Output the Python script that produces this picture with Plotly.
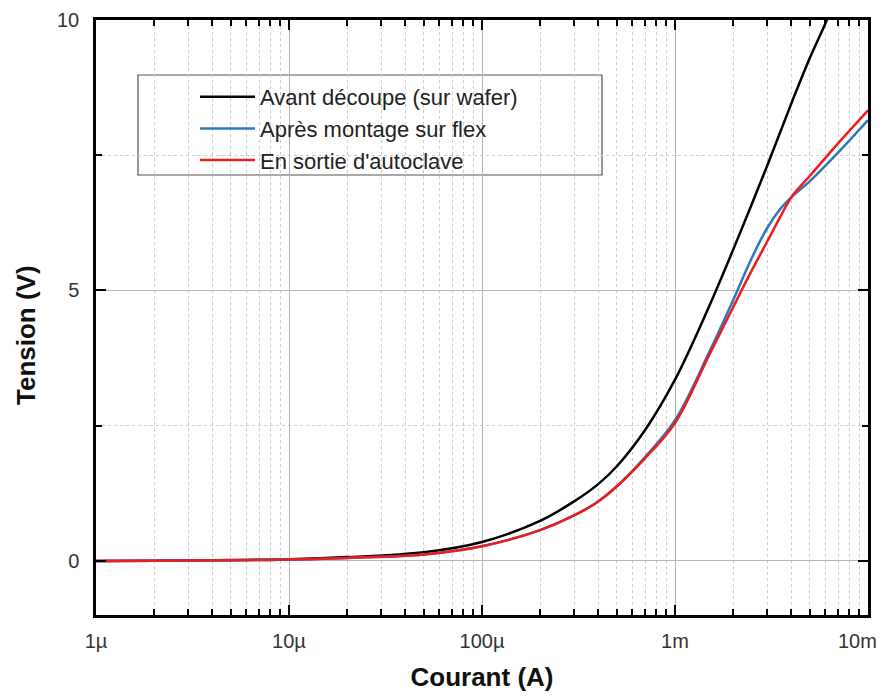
import plotly.graph_objects as go

# current (A) sample points
current = [1e-6, 2e-6, 5e-6, 1e-5, 2e-5, 5e-5, 1e-4, 2e-4, 3e-4, 4e-4, 5e-4, 7e-4,
           1e-3, 1.5e-3, 2e-3, 2.5e-3, 3e-3, 3.5e-3, 4e-3, 5e-3, 7e-3, 1e-2]

# Avant découpe (sur wafer) - goes off the top at ~6.2 mA
current_wafer = [1e-6, 2e-6, 5e-6, 1e-5, 2e-5, 5e-5, 1e-4, 2e-4, 3e-4, 4e-4, 5e-4, 7e-4,
                 1e-3, 1.5e-3, 2e-3, 3e-3, 4e-3, 5e-3, 6.2e-3, 7e-3]
v_wafer = [0.0, 0.005, 0.015, 0.03, 0.07, 0.16, 0.35, 0.74, 1.1, 1.42, 1.75, 2.42,
           3.35, 4.7, 5.75, 7.3, 8.45, 9.3, 10.05, 10.6]

# Après montage sur flex
v_flex = [0.0, 0.005, 0.012, 0.025, 0.055, 0.12, 0.27, 0.57, 0.84, 1.1, 1.38, 1.92,
          2.6, 3.85, 4.82, 5.6, 6.15, 6.5, 6.72, 7.02, 7.55, 8.15]

# En sortie d'autoclave
v_autoclave = [0.0, 0.005, 0.012, 0.025, 0.055, 0.12, 0.27, 0.57, 0.84, 1.1, 1.38, 1.9,
               2.55, 3.8, 4.69, 5.37, 5.9, 6.35, 6.72, 7.12, 7.72, 8.33]

x_tickvals = [1e-6, 1e-5, 1e-4, 1e-3, 1e-2]
# last label is drawn as an annotation so it is not clipped at the window edge
x_ticktext = ["1µ", "10µ", "100µ", "1m", ""]
x_last_label = "10m"
x_minor = [m * d for d in [1e-6, 1e-5, 1e-4, 1e-3] for m in range(2, 10)]

FONT = "Liberation Sans, Arial, sans-serif"

fig = go.Figure()

fig.add_trace(go.Scatter(x=current_wafer, y=v_wafer, mode="lines", line_shape="spline",
                         line=dict(color="#000000", width=2.5),
                         name="Avant découpe (sur wafer)"))
fig.add_trace(go.Scatter(x=current, y=v_flex, mode="lines", line_shape="spline",
                         line=dict(color="#2f78b9", width=2.5),
                         name="Après montage sur flex"))
fig.add_trace(go.Scatter(x=current, y=v_autoclave, mode="lines", line_shape="spline",
                         line=dict(color="#ee1c1c", width=2.5),
                         name="En sortie d'autoclave"))

# legend frame (white box over the grid)
fig.add_shape(type="rect", xref="paper", yref="paper",
              x0=(138 - 96) / 772, x1=(602 - 96) / 772,
              y0=(615 - 175) / 595, y1=(615 - 75) / 595,
              line=dict(color="#555555", width=1.2), fillcolor="white", layer="between")

# y title placed by hand (sits a bit below the axis centre in the original)
fig.add_annotation(text="<b>Tension (V)</b>", xref="paper", yref="paper",
                   x=-(96 - 26) / 772, y=(615 - 335) / 595, textangle=-90,
                   showarrow=False, xanchor="center", yanchor="middle",
                   font=dict(family=FONT, size=26, color="#111"))

fig.add_annotation(text=x_last_label, xref="paper", yref="paper",
                   x=(879 - 96) / 772, y=(615 - 641) / 595,
                   showarrow=False, xanchor="right", yanchor="middle",
                   font=dict(family=FONT, size=20, color="#333"))

fig.update_xaxes(
    type="log", range=[-6, -2], automargin=False,
    tickmode="array", tickvals=x_tickvals, ticktext=x_ticktext,
    ticks="inside", ticklen=10, tickwidth=2, tickcolor="#000",
    showline=True, linecolor="#000", linewidth=2.5, mirror="allticks",
    showgrid=True, gridcolor="#b5b5b5", gridwidth=1,
    minor=dict(tickmode="array", tickvals=x_minor, ticks="inside", ticklen=6,
               tickwidth=1.5, tickcolor="#000", showgrid=True,
               gridcolor="#cccccc", griddash="dot", gridwidth=1),
    tickfont=dict(family=FONT, size=20, color="#333"), ticklabelstandoff=6,
    ticklabeloverflow="allow",
    title=dict(text="<b>Courant (A)</b>", font=dict(family=FONT, size=26, color="#111"),
               standoff=20),
    zeroline=False,
)
fig.update_yaxes(
    range=[-1, 10], automargin=False,
    tickmode="array", tickvals=[0, 5, 10],
    ticks="inside", ticklen=10, tickwidth=2, tickcolor="#000",
    showline=True, linecolor="#000", linewidth=2.5, mirror="allticks",
    showgrid=True, gridcolor="#b5b5b5", gridwidth=1,
    minor=dict(tickmode="array", tickvals=[2.5, 7.5], ticks="inside", ticklen=6,
               tickwidth=1.5, tickcolor="#000", showgrid=True,
               gridcolor="#cccccc", griddash="dot", gridwidth=1),
    tickfont=dict(family=FONT, size=20, color="#333"), ticklabelstandoff=10,
    zeroline=False,
)

# the page body has an 8px margin; keep the figure inside the 892x700 window
fig.update_layout(
    width=876, height=684,
    margin=dict(l=88, r=16, t=12, b=77),
    paper_bgcolor="white", plot_bgcolor="white",
    font=dict(family=FONT, size=16, color="#222"),
    showlegend=True,
    legend=dict(x=(195 - 96) / 772, y=(615 - 76) / 595, xanchor="left", yanchor="top",
                bgcolor="rgba(0,0,0,0)", borderwidth=0, itemwidth=55,
                font=dict(family=FONT, size=22, color="#222")),
)

fig.write_html("out.html")
